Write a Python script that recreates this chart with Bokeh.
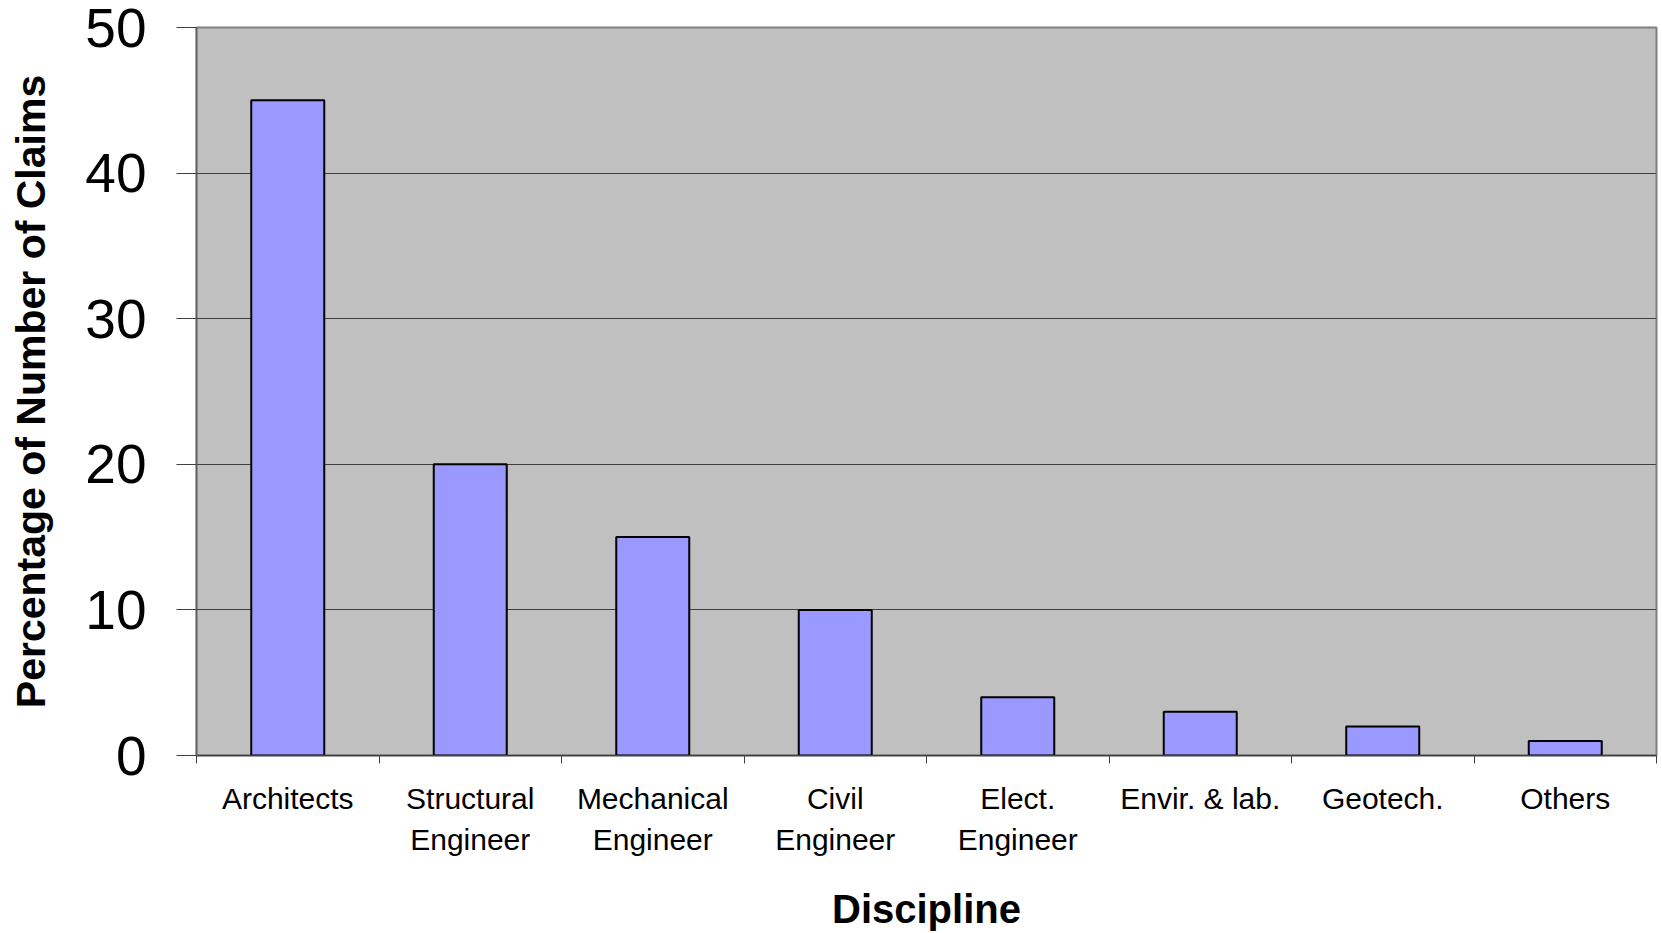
from bokeh.plotting import figure
from bokeh.models import FixedTicker, Range1d
from bokeh.embed import file_html
from bokeh.resources import INLINE

categories = ["Architects", "Structural\nEngineer", "Mechanical\nEngineer", "Civil\nEngineer",
              "Elect.\nEngineer", "Envir. & lab.", "Geotech.", "Others"]
values = [45, 20, 15, 10, 4, 3, 2, 1]
y_ticks = [0, 10, 20, 30, 40, 50]

centers = [i + 0.5 for i in range(len(categories))]
bounds = list(range(len(categories) + 1))

p = figure(width=1662, height=933, output_backend="svg", toolbar_location=None,
           x_range=Range1d(0, len(categories)), y_range=Range1d(0, 50),
           min_border_left=196, min_border_right=6, min_border_top=27, min_border_bottom=178)
p.background_fill_color = "#C0C0C0"
p.border_fill_color = "white"
p.outline_line_color = "#808080"
p.outline_line_width = 2

p.vbar(x=centers, top=values, width=0.4, fill_color="#9999FF", line_color="black", line_width=2)

font = "Liberation Sans"

# x axis
xa = p.xaxis[0]
xa.ticker = FixedTicker(ticks=centers, minor_ticks=bounds)
xa.major_label_overrides = {c: lab for c, lab in zip(centers, categories)}
xa.major_tick_out = 0
xa.major_tick_in = 0
xa.minor_tick_out = 8
xa.minor_tick_in = 0
xa.minor_tick_line_color = "#404040"
xa.axis_line_color = "#404040"
xa.axis_line_width = 1.5
xa.major_label_text_font = font
xa.major_label_text_font_size = "30px"
xa.major_label_text_color = "black"
xa.major_label_text_line_height = 1.25
xa.major_label_standoff = 18
xa.axis_label = "Discipline"
xa.axis_label_text_font = font
xa.axis_label_text_font_style = "bold"
xa.axis_label_text_font_size = "40px"
xa.axis_label_text_color = "black"
xa.axis_label_standoff = 28

# y axis
ya = p.yaxis[0]
ya.ticker = FixedTicker(ticks=y_ticks)
ya.major_tick_out = 20
ya.major_tick_in = 0
ya.minor_tick_out = 0
ya.minor_tick_in = 0
ya.major_tick_line_color = "#404040"
ya.axis_line_color = "#606060"
ya.axis_line_width = 1.5
ya.major_label_text_font = font
ya.major_label_text_font_size = "55px"
ya.major_label_text_color = "black"
ya.major_label_standoff = 30
ya.axis_label = "Percentage of Number of Claims"
ya.axis_label_text_font = font
ya.axis_label_text_font_style = "bold"
ya.axis_label_text_font_size = "41px"
ya.axis_label_text_color = "black"
ya.axis_label_standoff = 28

p.xgrid.grid_line_color = None
p.ygrid.grid_line_color = "#404040"
p.ygrid.grid_line_width = 1

open("out.html", "w").write(file_html(p, INLINE))
